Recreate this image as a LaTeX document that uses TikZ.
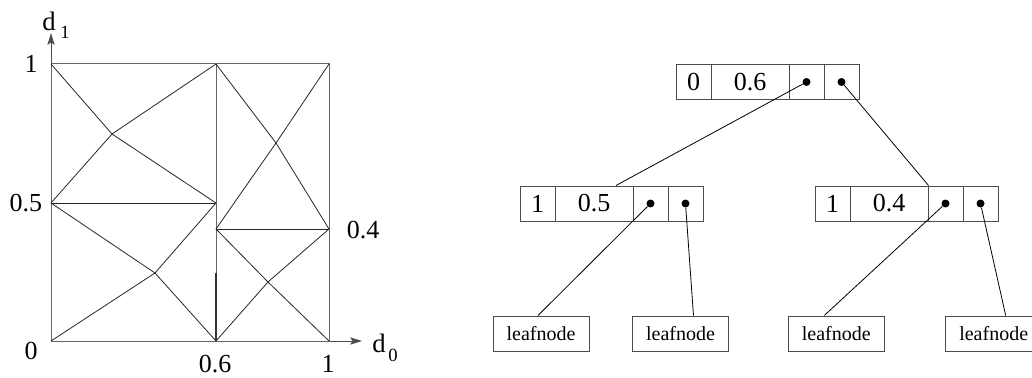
\documentclass[tikz,border=0pt]{standalone}
\usepackage{fontspec}
\setmainfont{Liberation Serif}
\usetikzlibrary{arrows.meta,calc}
\begin{document}
\begin{tikzpicture}[x=0.75pt,y=-0.75pt,
  edge/.style={line width=0.6pt,black!85},
  frame/.style={line width=0.75pt,black!60},
  axis/.style={line width=0.75pt,black!70,-{Stealth[length=9pt,width=5.5pt,inset=2pt]}},
  lab/.style={font=\fontsize{19.5}{19.5}\selectfont,inner sep=0pt},
  cell/.style={draw=black!70,line width=0.75pt,minimum height=26.25pt,inner sep=0pt,font=\fontsize{19.5}{19.5}\selectfont},
  dotc/.style={circle,fill=black,inner sep=0pt,minimum size=6pt},
  leaf/.style={draw=black!70,line width=0.75pt,minimum width=72pt,minimum height=26.25pt,inner sep=0pt,font=\fontsize{15}{15}\selectfont},
  link/.style={line width=0.6pt,black}]
\useasboundingbox (0,0) rectangle (1032,378);
% ---------- left plot ----------
\coordinate (O) at (51,341);
\coordinate (X1) at (329,341);
\coordinate (Y1) at (51,64);
\coordinate (C) at (329,64);
\coordinate (A6) at (216,341);
\coordinate (B6) at (216,64);
\coordinate (M5) at (51,203);
\coordinate (N5) at (216,203);
\coordinate (P4) at (216,229);
\coordinate (Q4) at (329,229);
\coordinate (I1) at (112,134);
\coordinate (I2) at (155,273);
\coordinate (I3) at (276,143);
\coordinate (I4) at (268,282);
\coordinate (T6) at (216,273);
\coordinate (xend) at (362,341);
\coordinate (yend) at (51,33);
\draw[axis] (X1) -- (xend);
\draw[axis] (Y1) -- (yend);
\draw[frame] (O) -- (X1) -- (C) -- (Y1) -- cycle;
\draw[frame] (A6) -- (B6);
\draw[line width=1pt,black!80] (T6) -- (A6);
\draw[edge] (M5) -- (N5);
\draw[edge] (P4) -- (Q4);
\draw[edge] (Y1) -- (I1) -- (N5);
\draw[edge] (M5) -- (I1) -- (B6);
\draw[edge] (M5) -- (I2) -- (A6);
\draw[edge] (O) -- (I2) -- (N5);
\draw[edge] (B6) -- (I3) -- (Q4);
\draw[edge] (C) -- (I3) -- (P4);
\draw[edge] (P4) -- (I4) -- (X1);
\draw[edge] (A6) -- (I4) -- (Q4);
\node[lab] (l1y) at (31,64) {1};
\node[lab] (l05) at (26,203) {0.5};
\node[lab] (l0) at (31,351) {0};
\node[lab,anchor=base,text depth=0pt] (l06) at (215,372) {0.6};
\node[lab,anchor=base,text depth=0pt] (l1x) at (328,372) {1};
\node[lab] (l04) at (363,230) {0.4};
\node[inner sep=0pt,font=\fontsize{20}{20}\selectfont] (dy) at (49,21) {d};
\node[inner sep=0pt,font=\fontsize{14}{14}\selectfont] (dy1) at (65,32) {1};
\node[inner sep=0pt,font=\fontsize{20}{20}\selectfont] (dx) at (379,343) {d};
\node[inner sep=0pt,font=\fontsize{14}{14}\selectfont] (dx0) at (393,355) {0};
% ---------- tree ----------
% root
\node[cell,minimum width=26.25pt] (r1) at (693.5,82) {0};
\node[cell,minimum width=58.5pt] (r2) at (750,82) {0.6};
\node[cell,minimum width=26.25pt] (r3) at (806.5,82) {};
\node[cell,minimum width=26.25pt] (r4) at (841.5,82) {};
\node[dotc] (rd1) at (r3.center) {};
\node[dotc] (rd2) at (r4.center) {};
% left child
\node[cell,minimum width=26.25pt] (a1) at (537.5,203.5) {1};
\node[cell,minimum width=58.5pt] (a2) at (594,203.5) {0.5};
\node[cell,minimum width=26.25pt] (a3) at (650.5,203.5) {};
\node[cell,minimum width=26.25pt] (a4) at (685.5,203.5) {};
\node[dotc] (ad1) at (a3.center) {};
\node[dotc] (ad2) at (a4.center) {};
% right child
\node[cell,minimum width=26.25pt] (b1) at (832.5,203.5) {1};
\node[cell,minimum width=58.5pt] (b2) at (889,203.5) {0.4};
\node[cell,minimum width=26.25pt] (b3) at (945.5,203.5) {};
\node[cell,minimum width=26.25pt] (b4) at (980.5,203.5) {};
\node[dotc] (bd1) at (b3.center) {};
\node[dotc] (bd2) at (b4.center) {};
% leaves
\node[leaf] (f1) at (541,333.5) {leafnode};
\node[leaf] (f2) at (680.5,333.5) {leafnode};
\node[leaf] (f3) at (836.3,333.5) {leafnode};
\node[leaf] (f4) at (993.7,333.5) {leafnode};
% links
\draw[link] (rd1) -- ($(a2.north)+(22,0)$);
\draw[link] (rd2) -- (b2.north east);
\draw[link] (ad1) -- ($(f1.north)+(-3,0)$);
\draw[link] (ad2) -- ($(f2.north)+(13,0)$);
\draw[link] (bd1) -- ($(f3.north)+(-12,0)$);
\draw[link] (bd2) -- ($(f4.north)+(12,0)$);
\end{tikzpicture}
\end{document}
